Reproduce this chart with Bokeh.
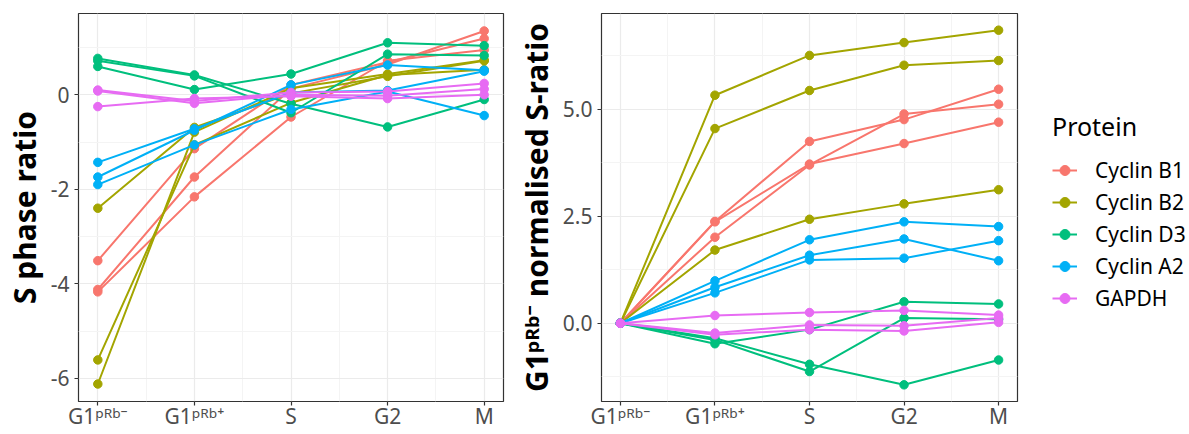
from bokeh.plotting import figure
from bokeh.layouts import row
from bokeh.models import FixedTicker, Range1d, Legend, LegendItem
from bokeh.embed import file_html
from bokeh.resources import INLINE

# ---------------- data ----------------
phases = ["G1\u1d56\u1d3f\u1d47\u207b", "G1\u1d56\u1d3f\u1d47\u207a", "S", "G2", "M"]
proteins = ["Cyclin B1", "Cyclin B2", "Cyclin D3", "Cyclin A2", "GAPDH"]
colors = ["#F8766D", "#A3A500", "#00BF7D", "#00B0F6", "#E76BF3"]

# left panel: S phase ratio (three replicates per protein)
s_cyclin_b1 = [[-3.51, -1.14, 0.21, 0.69, 1.19],
               [-4.12, -1.74, 0.13, 0.64, 1.35],
               [-4.17, -2.16, -0.47, 0.72, 0.95]]
s_cyclin_b2 = [[-2.40, -0.69, 0.03, 0.39, 0.72],
               [-5.61, -1.06, -0.17, 0.42, 0.53],
               [-6.12, -0.79, 0.14, 0.44, 0.73]]
s_cyclin_d3 = [[0.60, 0.11, 0.44, 1.10, 1.04],
               [0.77, 0.42, -0.19, -0.68, -0.10],
               [0.72, 0.40, -0.38, 0.86, 0.83]]
s_cyclin_a2 = [[-1.43, -0.72, 0.05, 0.09, 0.50],
               [-1.74, -0.75, 0.21, 0.63, 0.52],
               [-1.90, -1.06, -0.31, 0.07, -0.44]]
s_gapdh = [[0.10, -0.13, 0.05, 0.07, 0.24],
           [0.08, -0.18, 0.00, -0.02, 0.12],
           [-0.25, -0.08, -0.03, -0.08, 0.00]]

# right panel: G1pRb- normalised S-ratio
n_cyclin_b1 = [[0, 2.37, 3.72, 4.20, 4.70],
               [0, 2.38, 4.25, 4.76, 5.47],
               [0, 2.01, 3.70, 4.89, 5.12]]
n_cyclin_b2 = [[0, 1.71, 2.43, 2.79, 3.12],
               [0, 4.55, 5.44, 6.03, 6.14],
               [0, 5.33, 6.26, 6.56, 6.85]]
n_cyclin_d3 = [[0, -0.48, -0.15, 0.50, 0.45],
               [0, -0.35, -0.96, -1.44, -0.86],
               [0, -0.39, -1.13, 0.12, 0.09]]
n_cyclin_a2 = [[0, 0.71, 1.48, 1.52, 1.93],
               [0, 0.99, 1.95, 2.37, 2.26],
               [0, 0.84, 1.59, 1.97, 1.46]]
n_gapdh = [[0, -0.23, -0.04, -0.06, 0.12],
           [0, -0.27, -0.15, -0.18, 0.02],
           [0, 0.18, 0.25, 0.30, 0.19]]

left_series = [s_cyclin_b1, s_cyclin_b2, s_cyclin_d3, s_cyclin_a2, s_gapdh]
right_series = [n_cyclin_b1, n_cyclin_b2, n_cyclin_d3, n_cyclin_a2, n_gapdh]

left_ticks = [-6, -4, -2, 0]
left_minor = [-5, -3, -1, 1]
right_ticks = [0, 2.5, 5.0]
right_minor = [-1.25, 1.25, 3.75, 6.25]

FONT = "Noto Sans"
xpos = list(range(1, len(phases) + 1))
xminor = [v + 0.5 for v in xpos[:-1]]


def style(p, yticks, yminor, ylabel, yfmt):
    p.xaxis.ticker = FixedTicker(ticks=xpos, minor_ticks=xminor)
    p.xaxis.major_label_overrides = {x: lab for x, lab in zip(xpos, phases)}
    p.yaxis.ticker = FixedTicker(ticks=yticks, minor_ticks=yminor)
    p.yaxis.major_label_overrides = {t: yfmt(t) for t in yticks}
    p.xgrid.ticker = FixedTicker(ticks=xpos, minor_ticks=xminor)
    p.ygrid.ticker = FixedTicker(ticks=yticks, minor_ticks=yminor)
    for g in (p.xgrid, p.ygrid):
        g.grid_line_color = "#EBEBEB"
        g.grid_line_width = 1.2
        g.minor_grid_line_color = "#F4F4F4"
        g.minor_grid_line_width = 1
    for ax in (p.xaxis, p.yaxis):
        ax.axis_line_color = None
        ax.major_tick_line_color = "#333333"
        ax.major_tick_line_width = 1.2
        ax.major_tick_out = 4
        ax.major_tick_in = 0
        ax.minor_tick_line_color = None
        ax.major_label_text_font = FONT
        ax.major_label_text_font_size = "21px"
        ax.major_label_text_color = "#4D4D4D"
        ax.axis_label_text_font = FONT
        ax.axis_label_text_font_size = "30px"
        ax.axis_label_text_font_style = "bold"
        ax.axis_label_text_color = "#000000"
    p.xaxis.major_label_standoff = -4
    p.yaxis.major_label_standoff = 5
    p.yaxis.axis_label = ylabel
    p.yaxis.axis_label_standoff = 3
    p.outline_line_color = "#333333"
    p.outline_line_width = 1.2
    p.background_fill_color = "white"
    p.border_fill_color = "white"


def draw(p, series):
    for col, reps in zip(colors, series):
        for ys in reps:
            p.line(xpos, ys, line_color=col, line_width=2)
            p.scatter(xpos, ys, marker="circle", size=8.5, fill_color=col, line_color=col)


H = 432
p1 = figure(width=505, height=H, output_backend="svg", toolbar_location=None,
            x_range=Range1d(0.8, 5.2), y_range=Range1d(-6.49, 1.72),
            min_border_left=76, min_border_right=2, min_border_top=13, min_border_bottom=10)
style(p1, left_ticks, left_minor, "S phase ratio", lambda t: str(int(t)))
draw(p1, left_series)

p2 = figure(width=514, height=H, output_backend="svg", toolbar_location=None,
            x_range=Range1d(0.8, 5.2), y_range=Range1d(-1.83, 7.24),
            min_border_left=96, min_border_right=2, min_border_top=13, min_border_bottom=10)
style(p2, right_ticks, right_minor, "G1\u1d56\u1d3f\u1d47\u207b normalised S-ratio", lambda t: "%.1f" % t)
draw(p2, right_series)

# legend panel (renderers hidden; they only supply the legend glyph styles)
p3 = figure(width=168, height=H, output_backend="svg", toolbar_location=None,
            x_range=Range1d(0.8, 5.2), y_range=Range1d(-1.83, 7.24),
            x_axis_type=None, y_axis_type=None,
            min_border_left=0, min_border_right=0, min_border_top=0, min_border_bottom=0)
p3.grid.visible = False
p3.outline_line_color = None
items = []
for name, col, reps in zip(proteins, colors, right_series):
    lr = p3.line(xpos, reps[0], line_color=col, line_width=2, visible=False)
    sr = p3.scatter(xpos, reps[0], marker="circle", size=8.5, fill_color=col, line_color=col, visible=False)
    items.append(LegendItem(label=name, renderers=[lr, sr]))
legend = Legend(items=items, location=(33, 87), title="Protein",
                title_text_font=FONT, title_text_font_size="25px", title_text_color="#000000",
                title_text_font_style="normal", title_standoff=11,
                label_text_font=FONT, label_text_font_size="21px", label_text_color="#000000",
                glyph_width=25, glyph_height=32, label_standoff=18, spacing=0,
                padding=0, margin=0, border_line_color=None, background_fill_alpha=0,
                inactive_fill_alpha=0)
p3.add_layout(legend, "center")

layout = row(p1, p2, p3)
open("out.html", "w").write(file_html(layout, INLINE))
